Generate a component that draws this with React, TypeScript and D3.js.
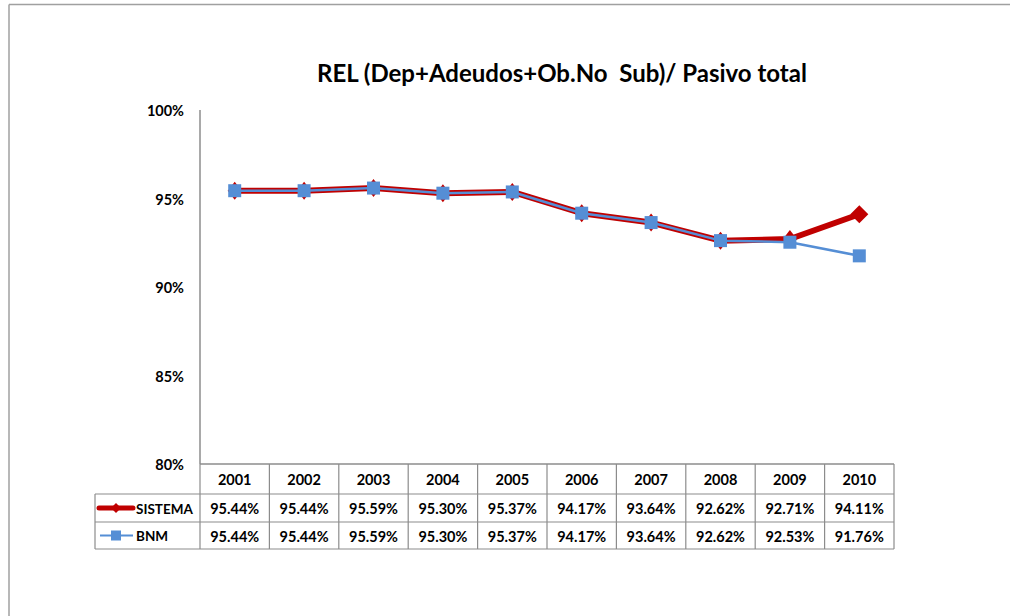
import React from "react";
import * as d3 from "d3";

const years = ["2001", "2002", "2003", "2004", "2005", "2006", "2007", "2008", "2009", "2010"];
const sistema = [95.44, 95.44, 95.59, 95.3, 95.37, 94.17, 93.64, 92.62, 92.71, 94.11];
const bnm = [95.44, 95.44, 95.59, 95.3, 95.37, 94.17, 93.64, 92.62, 92.53, 91.76];
const yTicks = [80, 85, 90, 95, 100];
const seriesNames = ["SISTEMA", "BNM"];
const title = "REL (Dep+Adeudos+Ob.No  Sub)/ Pasivo total";

const FONT = "Lato, 'Open Sans', sans-serif";
const RED = "#C00000";
const BLUE = "#558ED5";
const GRID = "#8c8c8c";
const FS = 14.5;

export default function App() {
  const W = 1010, H = 616;
  const x0 = 200, x1 = 894;
  const yTop = 110, yBot = 464;
  const x = d3.scaleBand<string>().domain(years).range([x0, x1]);
  const y = d3.scaleLinear().domain([80, 100]).range([yBot, yTop]);
  const line = d3
    .line<number>()
    .x((_, i) => (x(years[i]) as number) + x.bandwidth() / 2)
    .y((d) => y(d));

  const rowTops = [yBot, 494, 522, 549];
  const legendLeft = 95;

  const diamond = (cx: number, cy: number, rx: number, ry: number) =>
    `M${cx},${cy - ry}L${cx + rx},${cy}L${cx},${cy + ry}L${cx - rx},${cy}Z`;

  return (
    <svg width={W} height={H} style={{ position: "absolute", left: 0, top: 0, background: "#fff" }}>
      {/* outer frame */}
      <line x1={9} y1={4.5} x2={W} y2={4.5} stroke="#a0a0a0" strokeWidth={1.5} />
      <line x1={9} y1={4.5} x2={9} y2={H} stroke="#a0a0a0" strokeWidth={1.5} />

      <text
        x={562}
        y={82}
        textAnchor="middle"
        fontFamily={FONT}
        fontWeight="bold"
        fontSize={24}
        fill="#000"
        style={{ whiteSpace: "pre" }}
      >
        {title}
      </text>

      {/* y axis */}
      <line x1={x0} y1={yTop} x2={x0} y2={yBot} stroke={GRID} strokeWidth={1.5} />
      {yTicks.map((t) => (
        <text key={t} x={184} y={y(t) + 1} dy="0.35em" textAnchor="end" fontFamily={FONT} fontWeight="bold" fontSize={FS}>
          {t}%
        </text>
      ))}

      {/* table grid */}
      <line x1={x0} y1={yBot} x2={x1} y2={yBot} stroke={GRID} strokeWidth={1.5} />
      {rowTops.slice(1).map((ry) => (
        <line key={ry} x1={legendLeft} y1={ry} x2={x1} y2={ry} stroke={GRID} strokeWidth={1.2} />
      ))}
      <line x1={legendLeft} y1={rowTops[1]} x2={legendLeft} y2={rowTops[3]} stroke={GRID} strokeWidth={1.2} />
      {years.map((yr) => (
        <line
          key={yr}
          x1={(x(yr) as number) + x.bandwidth()}
          y1={yBot}
          x2={(x(yr) as number) + x.bandwidth()}
          y2={rowTops[3]}
          stroke={GRID}
          strokeWidth={1.2}
        />
      ))}
      <line x1={x0} y1={yBot} x2={x0} y2={rowTops[3]} stroke={GRID} strokeWidth={1.2} />

      {years.map((yr) => (
        <text
          key={yr}
          x={(x(yr) as number) + x.bandwidth() / 2}
          y={(rowTops[0] + rowTops[1]) / 2 + 1}
          dy="0.35em"
          textAnchor="middle"
          fontFamily={FONT}
          fontWeight="bold"
          fontSize={FS}
        >
          {yr}
        </text>
      ))}
      {[sistema, bnm].map((vals, r) =>
        vals.map((v, i) => (
          <text
            key={r + "-" + i}
            x={(x(years[i]) as number) + x.bandwidth() / 2}
            y={(rowTops[r + 1] + rowTops[r + 2]) / 2 + 1}
            dy="0.35em"
            textAnchor="middle"
            fontFamily={FONT}
            fontWeight="bold"
            fontSize={FS}
          >
            {v.toFixed(2)}%
          </text>
        ))
      )}

      {/* legend keys */}
      {(() => {
        const cy1 = (rowTops[1] + rowTops[2]) / 2;
        const cy2 = (rowTops[2] + rowTops[3]) / 2;
        return (
          <g>
            <line x1={99} y1={cy1} x2={133} y2={cy1} stroke={RED} strokeWidth={5} strokeLinecap="round" />
            <path d={diamond(116, cy1, 5, 5)} fill={RED} />
            <text x={136} y={cy1 + 1} dy="0.35em" fontFamily={FONT} fontWeight="bold" fontSize={13.5}>
              {seriesNames[0]}
            </text>
            <line x1={100} y1={cy2} x2={133} y2={cy2} stroke={BLUE} strokeWidth={2} />
            <rect x={111} y={cy2 - 5} width={10} height={10} fill={BLUE} />
            <text x={136} y={cy2 + 1} dy="0.35em" fontFamily={FONT} fontWeight="bold" fontSize={13.5}>
              {seriesNames[1]}
            </text>
          </g>
        );
      })()}

      {/* series */}
      <path d={line(sistema) || ""} fill="none" stroke={RED} strokeWidth={6} strokeLinejoin="round" />
      {sistema.map((v, i) => {
        const cx = (x(years[i]) as number) + x.bandwidth() / 2;
        const last = i === sistema.length - 1;
        return <path key={"d" + i} d={diamond(cx, y(v), last ? 9 : 7, last ? 9 : 9)} fill={RED} />;
      })}
      <path d={line(bnm) || ""} fill="none" stroke={BLUE} strokeWidth={2.5} strokeLinejoin="round" />
      {bnm.map((v, i) => {
        const cx = (x(years[i]) as number) + x.bandwidth() / 2;
        return <rect key={"s" + i} x={cx - 6.5} y={y(v) - 6.5} width={13} height={13} fill={BLUE} />;
      })}
    </svg>
  );
}
